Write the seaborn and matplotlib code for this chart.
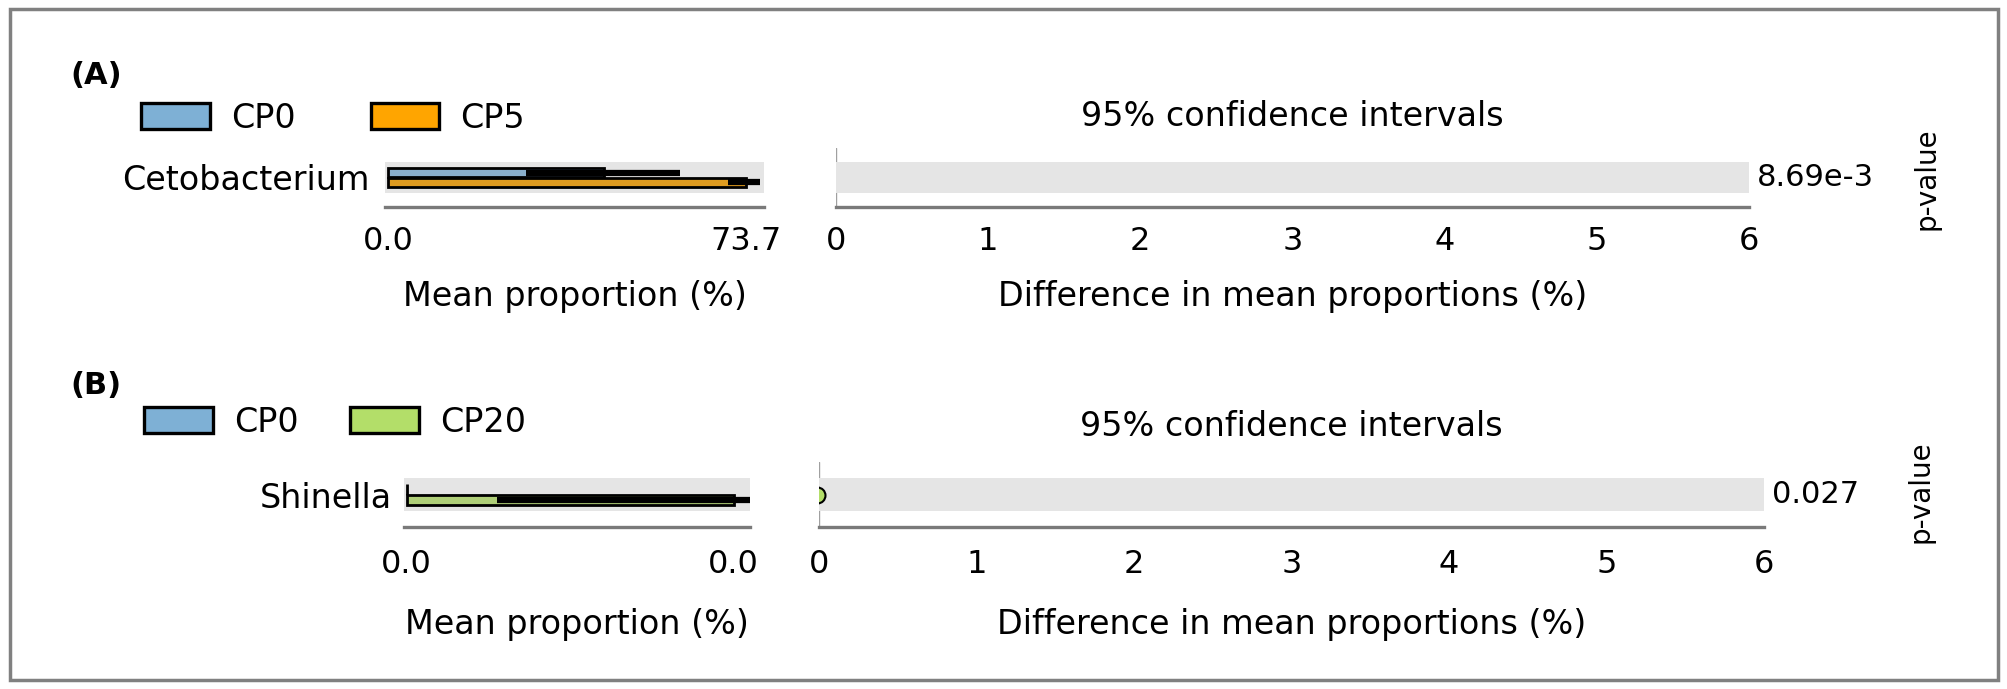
import matplotlib
matplotlib.use("Agg")
import matplotlib.pyplot as plt
from matplotlib.patches import Patch, Rectangle
import seaborn as sns
import pandas as pd
import numpy as np

# ---- panel A data ----
feature_a = "Cetobacterium"
groups_a = ["CP0", "CP5"]
means_a = [44.5, 73.7]
ci_low_a = [28.4, 70.0]
ci_high_a = [60.1, 76.6]
diff_a = -29.2
diff_ci_a = [-45.3, -13.1]
pvalue_a = "8.69e-3"
colors_a = ["#7eb0d5", "#ffa500"]

# ---- panel B data ----
feature_b = "Shinella"
groups_b = ["CP0", "CP20"]
means_b = [0.0, 0.04]
ci_low_b = [0.0, 0.011]
ci_high_b = [0.0, 0.042]
diff_b = -0.013
diff_ci_b = [-0.023, -0.003]
pvalue_b = "0.027"
colors_b = ["#7eb0d5", "#b3de69"]

diff_ticks = [0, 1, 2, 3, 4, 5, 6]

W, H = 2008, 689
TXT = 24   # words
TCK = 23   # tick labels

sns.set_style("white")
plt.rcParams["font.family"] = ["DejaVu Sans"]
plt.rcParams["font.size"] = TXT
plt.rcParams["text.color"] = "black"
plt.rcParams["axes.labelcolor"] = "black"
plt.rcParams["xtick.labelcolor"] = "black"
plt.rcParams["ytick.labelcolor"] = "black"

fig = plt.figure(figsize=(W / 100, H / 100), dpi=100)


def px_axes(x0, y0, x1, y1):
    return fig.add_axes([x0 / W, 1 - y1 / H, (x1 - x0) / W, (y1 - y0) / H])


def style_axis(ax, pad):
    for s in ["top", "left", "right"]:
        ax.spines[s].set_visible(False)
    ax.spines["bottom"].set_color("#7a7a7a")
    ax.spines["bottom"].set_linewidth(2.4)
    ax.tick_params(axis="x", direction="in", length=14, width=1.2,
                   color="#808080", pad=pad, labelsize=TCK, labelcolor="black")


def draw_means(ax, feature, groups, means, lo, hi, colors, pad, ypad, lpad):
    df = pd.DataFrame({"feature": feature, "group": groups, "mean": means})
    sns.barplot(data=df, x="mean", y="feature", hue="group", palette=colors,
                width=0.64, errorbar=None, edgecolor="black", linewidth=2,
                legend=False, ax=ax, zorder=2)
    ys = [p.get_y() + p.get_height() / 2 for p in ax.patches]
    means = np.array(means)
    ax.errorbar(means, ys, xerr=[means - np.array(lo), np.array(hi) - means],
                fmt="none", ecolor="black", elinewidth=4.5, capsize=0, zorder=3)
    ax.axhspan(-0.51, 0.51, color="#e5e5e5", lw=0, zorder=0)
    m = means.max()
    ax.set_xlim(-0.008 * m, 1.05 * m)
    ax.set_ylim(1, -1)
    ax.set_xticks([0, m])
    ax.set_xticklabels(["%.1f" % 0, "%.1f" % m])
    style_axis(ax, pad)
    ax.tick_params(axis="y", length=0, pad=ypad, labelsize=TXT, labelcolor="black")
    ax.set_ylabel("")
    ax.set_xlabel("Mean proportion (%)", fontsize=TXT, labelpad=lpad, color="black")


def draw_diff(ax, diff, diff_ci, color, pvalue, pad, tpad, lpad):
    ax.axhspan(-0.51, 0.51, color="#e5e5e5", lw=0, zorder=1)
    ax.axvline(0, color="#a0a0a0", lw=1, zorder=0.5)
    ax.errorbar([diff], [0], xerr=[[diff - diff_ci[0]], [diff_ci[1] - diff]],
                fmt="o", ms=11.5, mfc=color, mec="black", mew=1.5,
                ecolor="black", elinewidth=1.5, capsize=0, zorder=4)
    ax.set_xlim(0, 6)
    ax.set_ylim(1, -1)
    ax.set_yticks([])
    ax.set_xticks(diff_ticks)
    style_axis(ax, pad)
    ax.set_title("95% confidence intervals", fontsize=TXT, pad=tpad, color="black")
    ax.set_xlabel("Difference in mean proportions (%)", fontsize=TXT,
                  labelpad=lpad, color="black")
    ax.annotate(pvalue, xy=(1, 0), xycoords=("axes fraction", "data"),
                xytext=(6, 0), textcoords="offset points",
                ha="left", va="center", fontsize=22, color="black")


def add_legend(groups, colors, x, y, colspace):
    handles = [Patch(facecolor=c, edgecolor="black", linewidth=2.4) for c in colors]
    fig.legend(handles, groups, loc="center left", bbox_to_anchor=(x / W, 1 - y / H),
               ncol=2, frameon=False, handlelength=2.06, handleheight=0.8,
               handletextpad=0.64, columnspacing=colspace, borderpad=0,
               borderaxespad=0, fontsize=TXT, labelcolor="black")


# ---- panel A ----
ax_a1 = px_axes(385, 148, 764, 207)
draw_means(ax_a1, feature_a, groups_a, means_a, ci_low_a, ci_high_a, colors_a, 14, 11, 16)
ax_a2 = px_axes(836, 148, 1749, 207)
draw_diff(ax_a2, diff_a, diff_ci_a, colors_a[1], pvalue_a, 14, 16, 16)
fig.text(70 / W, 1 - 76 / H, "(A)", fontweight="bold", fontsize=22, va="center")
add_legend(groups_a, colors_a, 141, 118, 2.25)
fig.text(1927 / W, 1 - 179 / H, "p-value", rotation=90, ha="center", va="center", fontsize=20)

# ---- panel B ----
ax_b1 = px_axes(404, 462, 750, 527)
draw_means(ax_b1, feature_b, groups_b, means_b, ci_low_b, ci_high_b, colors_b, 16, 9, 20)
ax_b2 = px_axes(819, 462, 1764, 527)
draw_diff(ax_b2, diff_b, diff_ci_b, colors_b[1], pvalue_b, 16, 19, 20)
fig.text(70 / W, 1 - 386 / H, "(B)", fontweight="bold", fontsize=22, va="center")
add_legend(groups_b, colors_b, 144, 422, 1.55)
fig.text(1921 / W, 1 - 492 / H, "p-value", rotation=90, ha="center", va="center", fontsize=20)

# outer frame
fig.patches.append(Rectangle((10 / W, 1 - 680 / H), (1998 - 10) / W, (680 - 9) / H,
                             transform=fig.transFigure, fill=False,
                             edgecolor="#808080", lw=2.5))

fig.savefig("out.png", dpi=100)
